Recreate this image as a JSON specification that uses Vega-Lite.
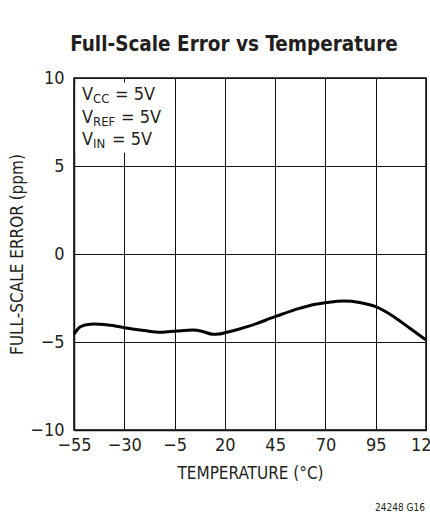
{
  "$schema": "https://vega.github.io/schema/vega-lite/v6.json",
  "autosize": "none",
  "width": 352,
  "height": 352,
  "padding": {"left": 74, "top": 78, "right": 4, "bottom": 82},
  "background": "white",
  "title": {
    "text": "Full-Scale Error vs Temperature",
    "fontSize": 20.5,
    "fontWeight": "bold",
    "color": "#231f20",
    "anchor": "middle",
    "dx": -16,
    "baseline": "alphabetic",
    "offset": -2
  },
  "config": {
    "font": "DejaVu Sans Condensed, Liberation Sans Narrow, sans-serif",
    "view": {"stroke": "#111", "strokeWidth": 1.5},
    "axis": {
      "labelFont": "DejaVu Sans Condensed, Liberation Sans Narrow, sans-serif",
      "titleFont": "DejaVu Sans Condensed, Liberation Sans Narrow, sans-serif",
      "labelColor": "#231f20",
      "titleColor": "#231f20",
      "titleFontWeight": "normal",
      "grid": true,
      "gridColor": "#111",
      "gridWidth": 1,
      "gridOpacity": 1,
      "domainColor": "#111",
      "domainWidth": 1.5,
      "ticks": false,
      "labelFlush": false,
      "labelOverlap": false
    }
  },
  "datasets": {
    "curve": [
      {"temp": -55, "err": -4.55},
      {"temp": -52, "err": -4.15},
      {"temp": -48, "err": -4.0},
      {"temp": -45, "err": -3.98},
      {"temp": -40, "err": -4.0},
      {"temp": -35, "err": -4.08},
      {"temp": -30, "err": -4.19},
      {"temp": -20, "err": -4.35},
      {"temp": -12, "err": -4.45},
      {"temp": -4, "err": -4.38},
      {"temp": 4, "err": -4.32},
      {"temp": 9, "err": -4.4},
      {"temp": 14, "err": -4.56},
      {"temp": 17, "err": -4.55},
      {"temp": 20, "err": -4.47},
      {"temp": 26, "err": -4.3},
      {"temp": 32, "err": -4.1},
      {"temp": 45, "err": -3.56},
      {"temp": 57, "err": -3.09},
      {"temp": 65, "err": -2.85},
      {"temp": 70, "err": -2.77},
      {"temp": 79, "err": -2.67},
      {"temp": 87, "err": -2.75},
      {"temp": 95, "err": -2.99},
      {"temp": 104, "err": -3.56},
      {"temp": 112, "err": -4.22},
      {"temp": 120, "err": -4.89}
    ],
    "one": [{"n": 1}]
  },
  "layer": [
    {
      "data": {"name": "curve"},
      "mark": {"type": "line", "color": "#000", "strokeWidth": 3, "interpolate": "monotone"},
      "encoding": {
        "x": {
          "field": "temp",
          "type": "quantitative",
          "scale": {"domain": [-55, 120], "nice": false, "zero": false},
          "axis": {
            "values": [-55, -30, -5, 20, 45, 70, 95, 120],
            "title": "TEMPERATURE (°C)",
            "labelFontSize": 18,
            "titleFontSize": 17,
            "labelPadding": 6,
            "titlePadding": 11
          }
        },
        "y": {
          "field": "err",
          "type": "quantitative",
          "scale": {"domain": [-10, 10], "nice": false, "zero": false},
          "axis": {
            "values": [-10, -5, 0, 5, 10],
            "title": "FULL-SCALE ERROR (ppm)",
            "labelFontSize": 18,
            "titleFontSize": 17,
            "labelPadding": 10,
            "titlePadding": 3
          }
        }
      }
    },
    {
      "data": {"name": "one"},
      "mark": {"type": "rect", "fill": "white", "stroke": null},
      "encoding": {
        "x": {"datum": -54.2, "type": "quantitative"},
        "x2": {"datum": -15},
        "y": {"datum": 9.75, "type": "quantitative"},
        "y2": {"datum": 5.75}
      }
    },
    {
      "data": {"name": "one"},
      "mark": {"type": "text", "text": ["V", "V", "V"], "fontSize": 18, "align": "left", "baseline": "alphabetic", "lineHeight": 22.5, "dx": 8, "dy": 22, "color": "#231f20"},
      "encoding": {"x": {"datum": -55, "type": "quantitative"}, "y": {"datum": 10, "type": "quantitative"}}
    },
    {
      "data": {"name": "one"},
      "mark": {"type": "text", "text": "CC", "fontSize": 13, "align": "left", "baseline": "alphabetic", "dx": 19, "dy": 25, "color": "#231f20"},
      "encoding": {"x": {"datum": -55, "type": "quantitative"}, "y": {"datum": 10, "type": "quantitative"}}
    },
    {
      "data": {"name": "one"},
      "mark": {"type": "text", "text": "REF", "fontSize": 13, "align": "left", "baseline": "alphabetic", "dx": 19, "dy": 47.5, "color": "#231f20"},
      "encoding": {"x": {"datum": -55, "type": "quantitative"}, "y": {"datum": 10, "type": "quantitative"}}
    },
    {
      "data": {"name": "one"},
      "mark": {"type": "text", "text": "IN", "fontSize": 13, "align": "left", "baseline": "alphabetic", "dx": 19, "dy": 70, "color": "#231f20"},
      "encoding": {"x": {"datum": -55, "type": "quantitative"}, "y": {"datum": 10, "type": "quantitative"}}
    },
    {
      "data": {"name": "one"},
      "mark": {"type": "text", "text": "= 5V", "fontSize": 18, "align": "left", "baseline": "alphabetic", "dx": 41, "dy": 22, "color": "#231f20"},
      "encoding": {"x": {"datum": -55, "type": "quantitative"}, "y": {"datum": 10, "type": "quantitative"}}
    },
    {
      "data": {"name": "one"},
      "mark": {"type": "text", "text": "= 5V", "fontSize": 18, "align": "left", "baseline": "alphabetic", "dx": 47, "dy": 44.5, "color": "#231f20"},
      "encoding": {"x": {"datum": -55, "type": "quantitative"}, "y": {"datum": 10, "type": "quantitative"}}
    },
    {
      "data": {"name": "one"},
      "mark": {"type": "text", "text": "= 5V", "fontSize": 18, "align": "left", "baseline": "alphabetic", "dx": 38, "dy": 67, "color": "#231f20"},
      "encoding": {"x": {"datum": -55, "type": "quantitative"}, "y": {"datum": 10, "type": "quantitative"}}
    },
    {
      "data": {"name": "one"},
      "mark": {"type": "text", "text": "24248 G16", "fontSize": 10, "align": "right", "baseline": "alphabetic", "dx": -1, "dy": 81, "color": "#231f20"},
      "encoding": {"x": {"datum": 120, "type": "quantitative"}, "y": {"datum": -10, "type": "quantitative"}}
    }
  ]
}
